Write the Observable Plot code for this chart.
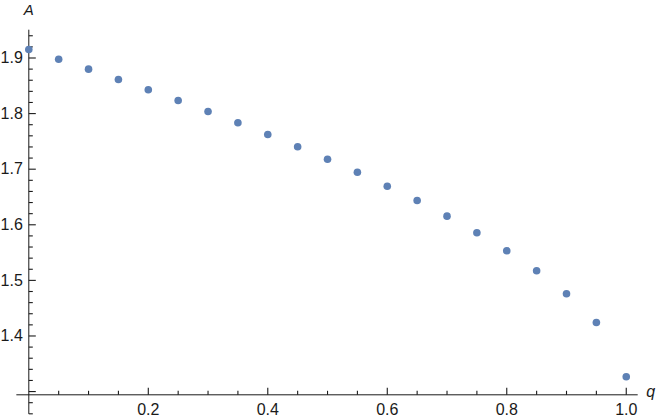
<!DOCTYPE html>
<html>
<head>
<meta charset="utf-8">
<script src="https://cdn.jsdelivr.net/npm/d3@7"></script>
<script src="https://cdn.jsdelivr.net/npm/@observablehq/plot@0.6"></script>
<style>
  html, body { margin: 0; padding: 0; background: white; }
</style>
</head>
<body>
<div id="chart"></div>
<script>
// Data
const qValues = [0, 0.05, 0.1, 0.15, 0.2, 0.25, 0.3, 0.35, 0.4, 0.45, 0.5,
                 0.55, 0.6, 0.65, 0.7, 0.75, 0.8, 0.85, 0.9, 0.95, 1.0];
const aValues = [1.9153, 1.8978, 1.8799, 1.8613, 1.8428, 1.8236, 1.8038, 1.7835, 1.7624, 1.7403, 1.7180,
                 1.6946, 1.6694, 1.6437, 1.6155, 1.5856, 1.5532, 1.5173, 1.4759, 1.4243, 1.3266];

// Ticks
const xMajorTicks = [0.2, 0.4, 0.6, 0.8, 1.0];
const xMinorTicks = [0.05, 0.1, 0.15, 0.25, 0.3, 0.35, 0.45, 0.5, 0.55, 0.65, 0.7, 0.75, 0.85, 0.9, 0.95];
const xTickLabels = [0.2, 0.4, 0.6, 0.8, 1.0];
const yMajorTicks = [1.3, 1.4, 1.5, 1.6, 1.7, 1.8, 1.9];
const yMinorTicks = [1.26, 1.28, 1.32, 1.34, 1.36, 1.38, 1.42, 1.44, 1.46, 1.48, 1.52, 1.54, 1.56, 1.58,
                     1.62, 1.64, 1.66, 1.68, 1.72, 1.74, 1.76, 1.78, 1.82, 1.84, 1.86, 1.88, 1.92, 1.94];
const yTickLabels = [1.4, 1.5, 1.6, 1.7, 1.8, 1.9];
const xLabel = "q";
const yLabel = "A";

const data = qValues.map((q, i) => ({q, a: aValues[i]}));

const W = 664, H = 419;
const mL = 28.3, mR = 26.3, mT = 29.7, mB = 24.7;
const xDomain = [0, 1.02];
const xAxisAt = 1.2942;
const yAxisBottom = 1.259;
const yTop = 1.95;
const yDomain = [xAxisAt, yTop];
// pixel -> data conversion for tick lengths
const kx = (W - mL - mR) / (xDomain[1] - xDomain[0]);
const ky = (H - mT - mB) / (yDomain[1] - yDomain[0]);
const majorLen = 7, minorLen = 4;

const axisColor = "#1a1a1a";
const textColor = "#1a1a1a";

const xMajorSeg = xMajorTicks.map(v => ({x1: v, x2: v, y1: xAxisAt, y2: xAxisAt + majorLen / ky}));
const xMinorSeg = xMinorTicks.map(v => ({x1: v, x2: v, y1: xAxisAt, y2: xAxisAt + minorLen / ky}));
const yMajorSeg = yMajorTicks.map(v => ({x1: 0, x2: majorLen / kx, y1: v, y2: v}));
const yMinorSeg = yMinorTicks.map(v => ({x1: 0, x2: minorLen / kx, y1: v, y2: v}));
const segs = [...xMajorSeg, ...xMinorSeg, ...yMajorSeg, ...yMinorSeg];

const plot = Plot.plot({
  width: W,
  height: H,
  marginLeft: mL,
  marginRight: mR,
  marginTop: mT,
  marginBottom: mB,
  style: {fontFamily: "'Liberation Sans', Arial, sans-serif", fontSize: "16px", background: "white", color: textColor},
  x: {domain: xDomain, axis: null},
  y: {domain: yDomain, axis: null},
  marks: [
    // axis lines
    Plot.ruleY([xAxisAt], {x1: -0.02, x2: 1.02, stroke: axisColor, strokeWidth: 1}),
    Plot.ruleX([0], {y1: yAxisBottom, y2: yTop, stroke: axisColor, strokeWidth: 1}),
    // ticks (inward)
    Plot.link(segs, {x1: "x1", y1: "y1", x2: "x2", y2: "y2", stroke: axisColor, strokeWidth: 1.1}),
    // tick labels
    Plot.axisX({anchor: "bottom", ticks: xTickLabels, tickSize: 0, tickPadding: 9, tickFormat: d3.format(".1f"), fontSize: 16, fill: textColor, label: null}),
    Plot.axisY({anchor: "left", ticks: yTickLabels, tickSize: 0, tickPadding: 6, tickFormat: d3.format(".1f"), fontSize: 16, fill: textColor, label: null}),
    // axis labels
    Plot.text([yLabel], {x: 0, y: yTop, text: d => d, dy: -19.7, fontStyle: "italic", fontSize: 15, textAnchor: "middle", fill: textColor}),
    Plot.text([xLabel], {x: 1.02, y: xAxisAt, text: d => d, dx: 12.6, dy: -2.8, fontStyle: "italic", fontSize: 16, textAnchor: "middle", fill: textColor}),
    // points
    Plot.dot(data, {x: "q", y: "a", r: 3.8, fill: "#5E81B5", stroke: "none"})
  ]
});
document.getElementById("chart").appendChild(plot);
</script>
</body>
</html>
